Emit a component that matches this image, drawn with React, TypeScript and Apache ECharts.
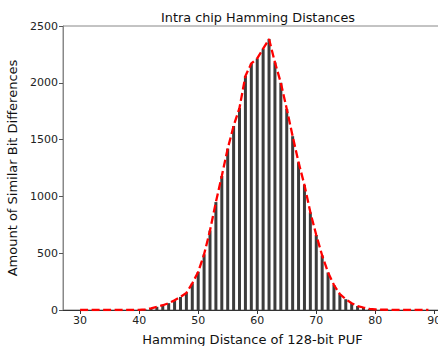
import React, { useEffect, useRef } from "react";
import * as echarts from "echarts";

const distances: number[] = [
  30, 31, 32, 33, 34, 35, 36, 37, 38, 39, 40, 41, 42, 43, 44, 45, 46, 47, 48, 49,
  50, 51, 52, 53, 54, 55, 56, 57, 58, 59, 60, 61, 62, 63, 64, 65, 66, 67, 68, 69,
  70, 71, 72, 73, 74, 75, 76, 77, 78, 79, 80, 81, 82, 83, 84, 85, 86, 87, 88, 89,
];
const counts: number[] = [
  0, 0, 0, 0, 0, 0, 0, 0, 0, 0, 1, 5, 15, 28, 42, 60, 85, 115, 150, 235,
  335, 490, 700, 950, 1180, 1420, 1620, 1780, 2060, 2170, 2215, 2300, 2385, 2180, 2000, 1770, 1530, 1300, 1100, 860,
  660, 480, 330, 220, 140, 95, 60, 35, 22, 10, 5, 3, 2, 1, 0, 0, 0, 0, 0, 0,
];
const xTicks: number[] = [30, 40, 50, 60, 70, 80, 90];

const FONT = "DejaVu Sans";

export default function App() {
  const ref = useRef<HTMLDivElement>(null);
  useEffect(() => {
    if (!ref.current) return;
    const chart = echarts.init(ref.current, undefined, { renderer: "svg" });
    const pts = distances.map((d, i) => [d, counts[i]]);
    chart.setOption({
      animation: false,
      backgroundColor: "#ffffff",
      title: {
        text: "Intra chip Hamming Distances",
        left: 253,
        top: 6,
        textAlign: "center",
        textStyle: { fontSize: 12.8, fontWeight: "normal", fontFamily: FONT, color: "#111" },
      },
      grid: {
        left: 63,
        right: -4,
        top: 26,
        bottom: 36,
        containLabel: false,
        outerBoundsMode: "none",
        show: true,
        borderColor: "#888",
        borderWidth: 1,
        backgroundColor: "transparent",
      },
      xAxis: {
        type: "value",
        min: 27.1,
        max: 91.3,
        name: "Hamming Distance of 128-bit PUF",
        nameLocation: "middle",
        nameGap: 23,
        nameTextStyle: { fontSize: 13, fontFamily: FONT, color: "#111" },
        axisLine: { show: true, lineStyle: { color: "#333", width: 1 } },
        axisTick: { show: true, length: 4, inside: false, customValues: xTicks, lineStyle: { color: "#333" } },
        axisLabel: { customValues: xTicks, fontSize: 11, fontFamily: FONT, color: "#222", margin: 5 },
        splitLine: { show: false },
      },
      yAxis: {
        type: "value",
        min: 0,
        max: 2500,
        interval: 500,
        name: "Amount of Similar Bit Differences",
        nameLocation: "middle",
        nameGap: 37,
        nameTextStyle: { fontSize: 13, fontFamily: FONT, color: "#111" },
        axisLine: { show: true, lineStyle: { color: "#888", width: 1 } },
        axisTick: { show: true, length: 4, lineStyle: { color: "#555" } },
        axisLabel: {
          fontSize: 11,
          fontFamily: FONT,
          color: "#222",
          margin: 5,
          formatter: (v: number) => String(v),
        },
        splitLine: { show: false },
      },
      series: [
        {
          type: "bar",
          data: pts,
          barWidth: 3,
          itemStyle: { color: "#3c3c3c" },
          z: 2,
        },
        {
          type: "line",
          data: pts,
          symbol: "none",
          smooth: false,
          lineStyle: { color: "#ff0000", width: 2.3, type: [8, 3.5] },
          z: 3,
        },
      ],
    });
    return () => chart.dispose();
  }, []);
  return (
    <div
      ref={ref}
      style={{ position: "fixed", left: 0, top: 0, width: 438, height: 346 }}
    />
  );
}
